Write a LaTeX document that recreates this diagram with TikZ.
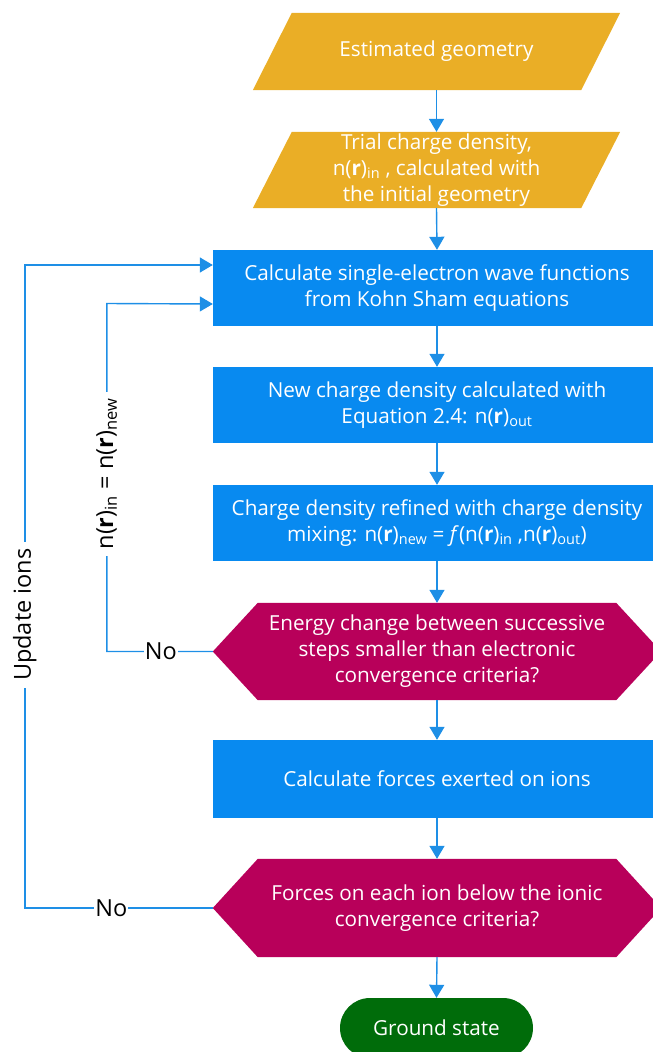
\documentclass[tikz,border=0pt]{standalone}
\usepackage{fontspec}
\setmainfont{Open Sans}
\usetikzlibrary{arrows.meta,shapes.misc,backgrounds}
\definecolor{gold}{RGB}{234,174,38}
\definecolor{procblue}{RGB}{8,138,240}
\definecolor{linkblue}{RGB}{30,143,230}
\definecolor{crim}{RGB}{184,0,90}
\definecolor{termgreen}{RGB}{0,108,10}
\newcommand\boxfont{\fontsize{20.7}{26}\selectfont}
\newcommand\labelfont{\fontsize{23.5}{28}\selectfont}
\tikzset{
  base/.style={inner sep=0pt, align=center, text=white, font=\boxfont},
  ioshape/.style={base, minimum width=367pt},
  procbox/.style={base, fill=procblue, minimum width=448pt, minimum height=76pt},
  decshape/.style={base, minimum width=448pt},
  termshape/.style={base, rounded rectangle, fill=termgreen, minimum width=193pt, minimum height=60pt},
  arr/.style={draw=linkblue, line width=1.4pt, -{Triangle[width=15pt,length=13pt]}},
  lbl/.style={fill=white, text=black, font=\labelfont, inner xsep=1pt, inner ysep=0pt},
  vlbl/.style={lbl, rotate=90, inner xsep=7pt}
}
\begin{document}
\begin{tikzpicture}[x=1pt,y=-1pt]
\useasboundingbox (0,0) rectangle (653,1052);

% main column
\node[ioshape, minimum height=77pt] (p1) at (436.5,51.5) {Estimated geometry};
\node[ioshape, minimum height=76pt] (p2) at (436.5,170) {Trial charge density,\\n(\textbf{r})\textsubscript{in} , calculated with\\the initial geometry};
\node[procbox] (b1) at (437,288) {Calculate single-electron wave functions\\from Kohn Sham equations};
\node[procbox] (b2) at (437,405) {New charge density calculated with\\Equation 2.4: n(\textbf{r})\textsubscript{out}};
\node[procbox] (b3) at (437,523) {Charge density refined with charge density\\mixing: n(\textbf{r})\textsubscript{new} = \textit{f}(n(\textbf{r})\textsubscript{in} ,n(\textbf{r})\textsubscript{out})};
\node[decshape, minimum height=97pt] (h1) at (437,651.5) {Energy change between successive\\steps smaller than electronic\\convergence criteria?};
\node[procbox, minimum height=78pt] (b4) at (437,779) {Calculate forces exerted on ions};
\node[decshape, minimum height=98pt] (h2) at (437,908) {Forces on each ion below the ionic\\convergence criteria?};
\node[termshape] (gs) at (436.5,1028) {Ground state};

% slanted and hexagonal outlines behind the texts
\begin{scope}[on background layer]
  \foreach \n in {p1,p2}
    \fill[gold] (\n.south west) -- ([xshift=39pt]\n.north west) -- (\n.north east)
      -- ([xshift=-39pt]\n.south east) -- cycle;
  \foreach \n in {h1,h2}
    \fill[crim] (\n.west) -- ([xshift=45pt]\n.north west) -- ([xshift=-45pt]\n.north east)
      -- (\n.east) -- ([xshift=-45pt]\n.south east) -- ([xshift=45pt]\n.south west) -- cycle;
\end{scope}

% forward flow
\draw[arr] (p1.south) -- (p2.north);
\draw[arr] (p2.south) -- (b1.north);
\draw[arr] (b1) -- (b2);
\draw[arr] (b2) -- (b3);
\draw[arr] (b3.south) -- (h1.north);
\draw[arr] (h1.south) -- (b4.north);
\draw[arr] (b4.south) -- (h2.north);
\draw[arr] (h2.south) -- (gs.north);

% electronic loop
\draw[arr] (h1.west) -- node[lbl, pos=0.49] {No} ++(-106,0)
  -- node[vlbl, pos=0.51] {n(\textbf{r})\textsubscript{in} = n(\textbf{r})\textsubscript{new}} ++(0,-348)
  -- ([yshift=-16pt]b1.west);

% ionic loop
\draw[arr] (h2.west) -- node[lbl, pos=0.54] {No} ++(-188,0)
  -- node[vlbl, pos=0.456] {Update ions} ++(0,-643)
  -- ([yshift=23pt]b1.west);
\end{tikzpicture}
\end{document}
